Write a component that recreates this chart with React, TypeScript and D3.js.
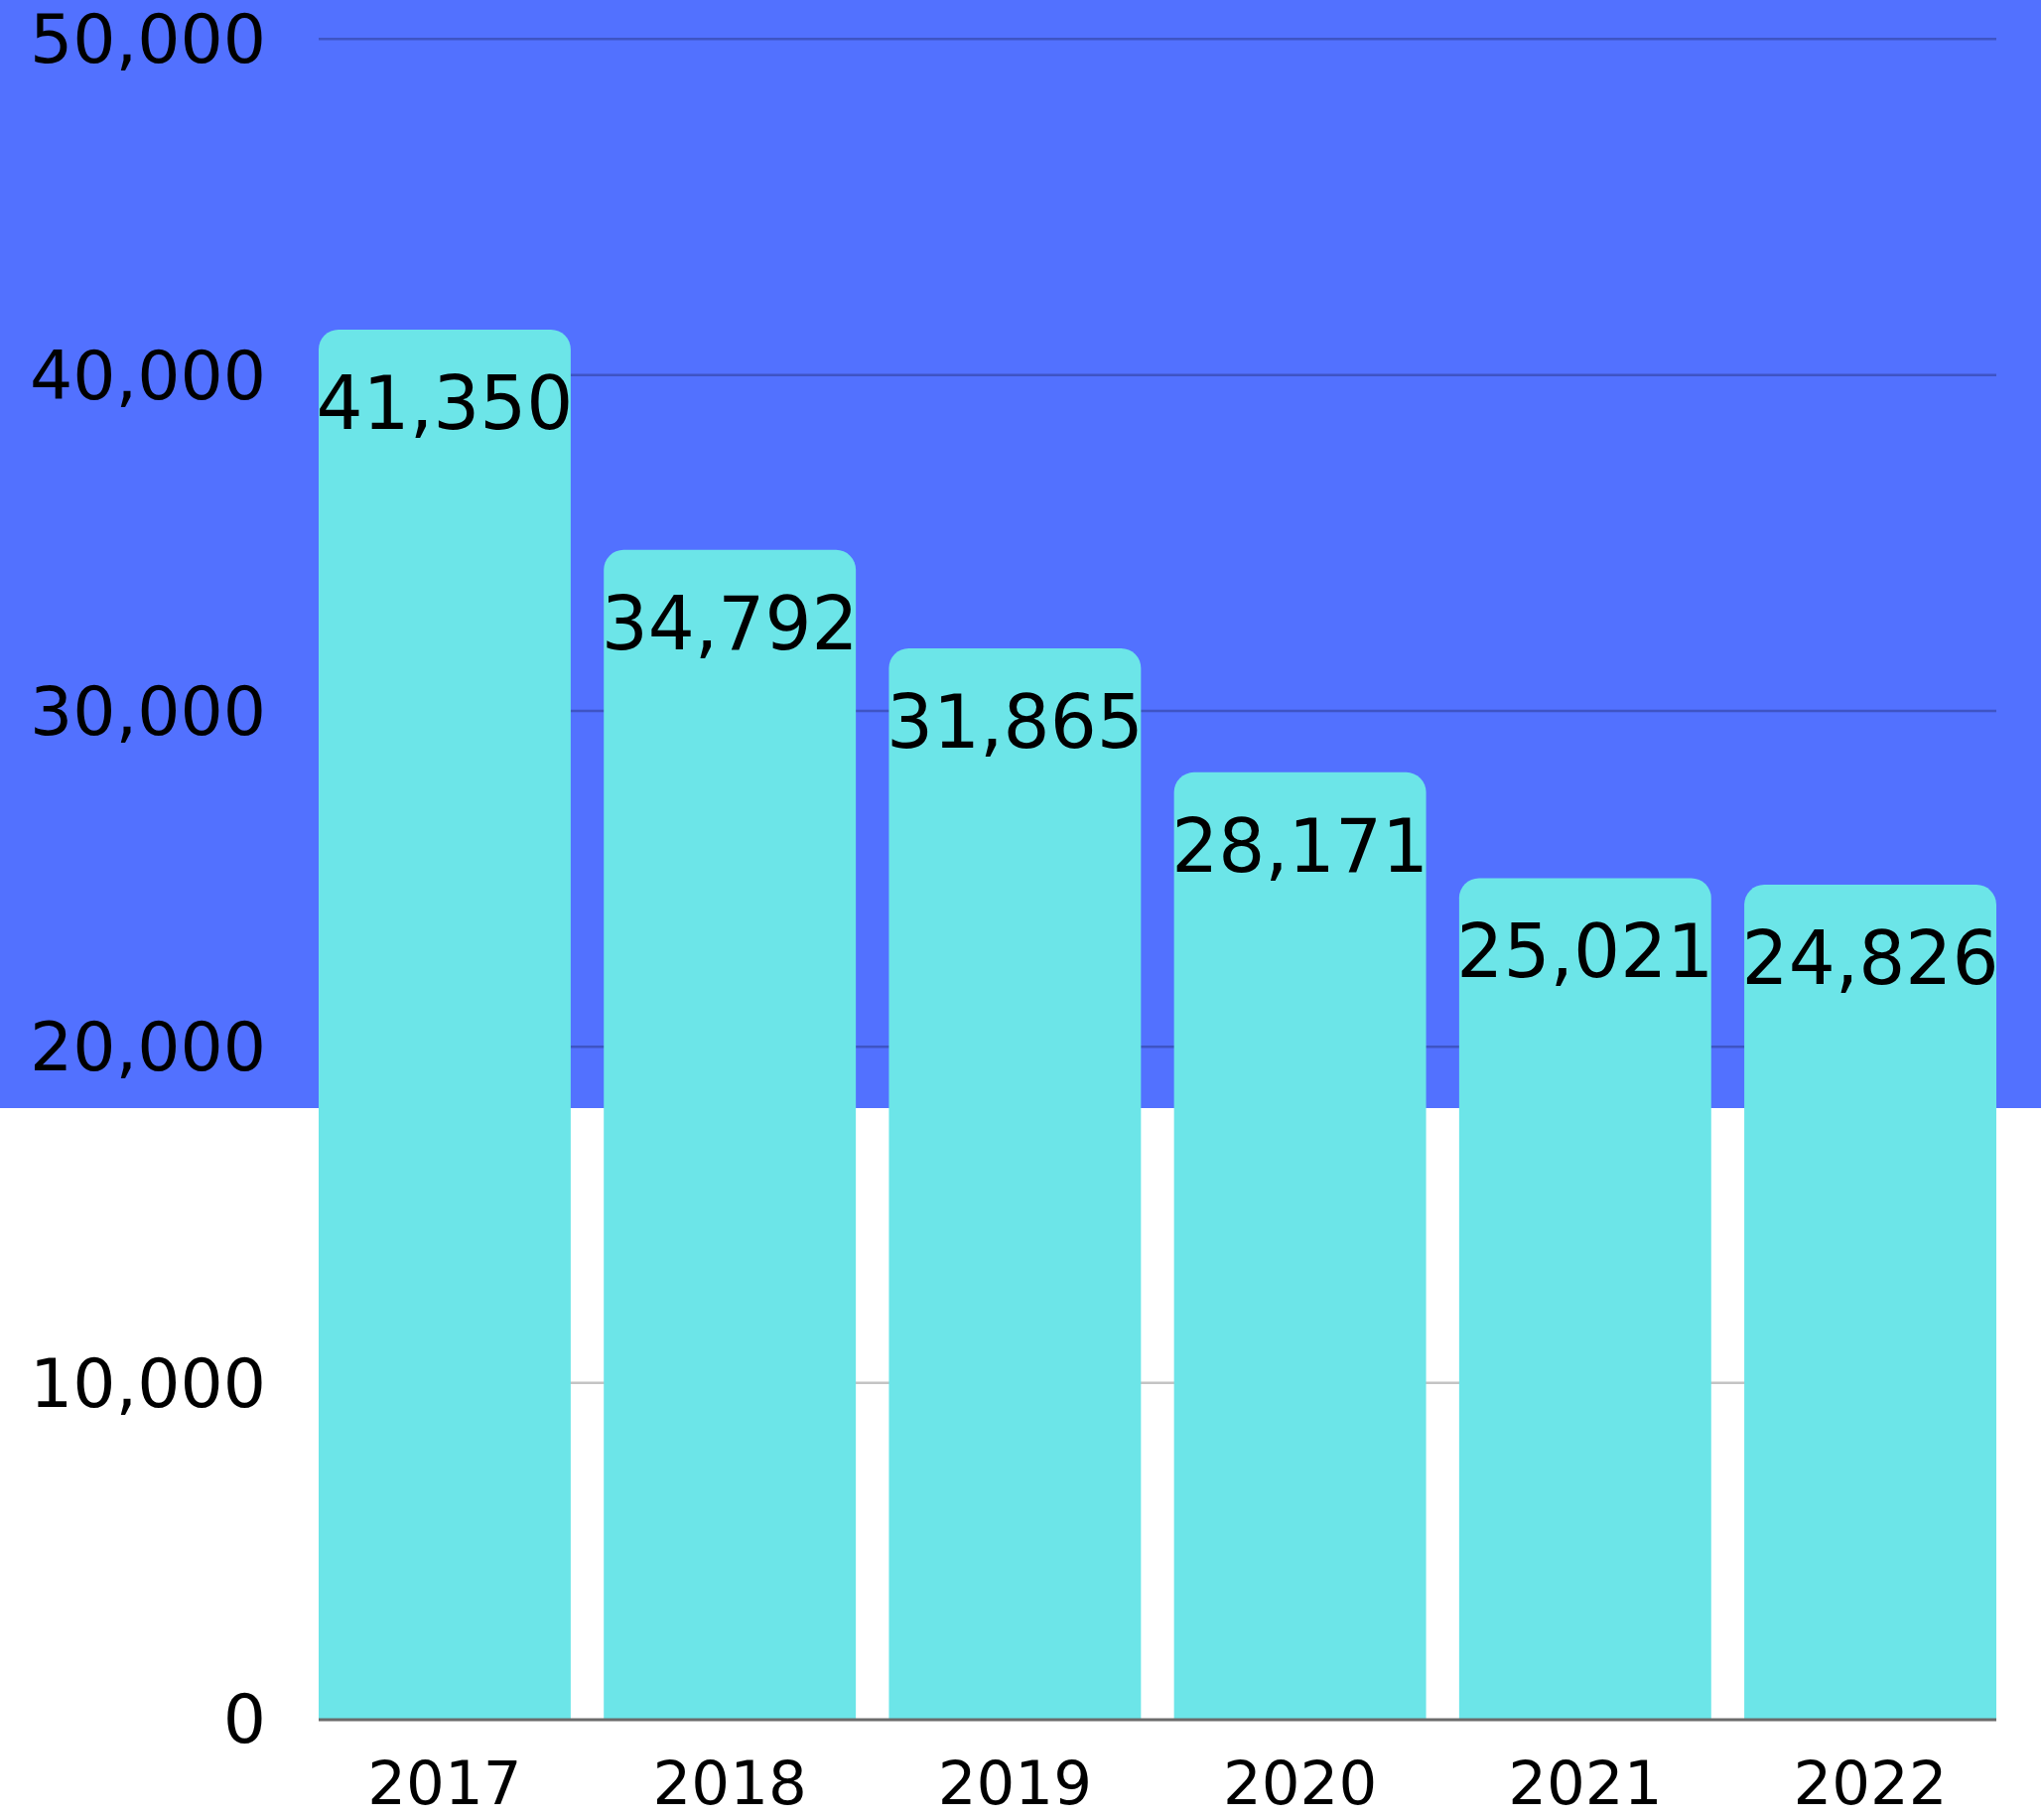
import React from "react";
import * as d3 from "d3";

const years = ["2017", "2018", "2019", "2020", "2021", "2022"];
const values = [41350, 34792, 31865, 28171, 25021, 24826];
const yTicks = [0, 10000, 20000, 30000, 40000, 50000];

const W = 2056;
const H = 1833;
const FONT = "'DejaVu Sans', sans-serif";

export default function App() {
  const x = d3.scaleBand<string>().domain(years).range([321, 2011]).paddingInner(0.116).paddingOuter(0);
  const y = d3.scaleLinear().domain([0, 50000]).range([1731, 39.3]);
  const fmt = d3.format(",");
  const blueBottom = 1116;
  const r = 20;

  const barPath = (xs: number, w: number, top: number, bottom: number) => {
    const p = d3.path();
    p.moveTo(xs, bottom);
    p.lineTo(xs, top + r);
    p.arcTo(xs, top, xs + r, top, r);
    p.lineTo(xs + w - r, top);
    p.arcTo(xs + w, top, xs + w, top + r, r);
    p.lineTo(xs + w, bottom);
    p.closePath();
    return p.toString();
  };

  return (
    <svg width={W} height={H} style={{ position: "absolute", left: 0, top: 0 }}>
      <rect x={0} y={0} width={W} height={H} fill="#ffffff" />
      <rect x={0} y={0} width={W} height={blueBottom} fill="#5271FF" />
      {yTicks.filter((t) => t > 0).map((t) => (
        <line
          key={t}
          x1={321}
          x2={2011}
          y1={y(t)}
          y2={y(t)}
          stroke={y(t) < blueBottom ? "#3E54C4" : "#c4c4c4"}
          strokeWidth={2.5}
        />
      ))}
      {years.map((yr, i) => (
        <path
          key={yr}
          d={barPath(x(yr)!, x.bandwidth(), y(values[i]), y(0))}
          fill="#6CE5E8"
        />
      ))}
      <line x1={321} x2={2011} y1={y(0) + 1} y2={y(0) + 1} stroke="#6b6b6b" strokeWidth={3} />
      {years.map((yr, i) => (
        <text
          key={"l" + yr}
          x={x(yr)! + x.bandwidth() / 2}
          y={y(values[i]) + 100}
          textAnchor="middle"
          fontFamily={FONT}
          fontSize={74}
          fill="#000"
        >
          {fmt(values[i])}
        </text>
      ))}
      {yTicks.map((t) => (
        <text
          key={"t" + t}
          x={268}
          y={y(t) + 24}
          textAnchor="end"
          fontFamily={FONT}
          fontSize={68}
          fill="#000"
        >
          {fmt(t)}
        </text>
      ))}
      {years.map((yr) => (
        <text
          key={"x" + yr}
          x={x(yr)! + x.bandwidth() / 2}
          y={1817}
          textAnchor="middle"
          fontFamily={FONT}
          fontSize={61}
          fill="#000"
        >
          {yr}
        </text>
      ))}
    </svg>
  );
}
